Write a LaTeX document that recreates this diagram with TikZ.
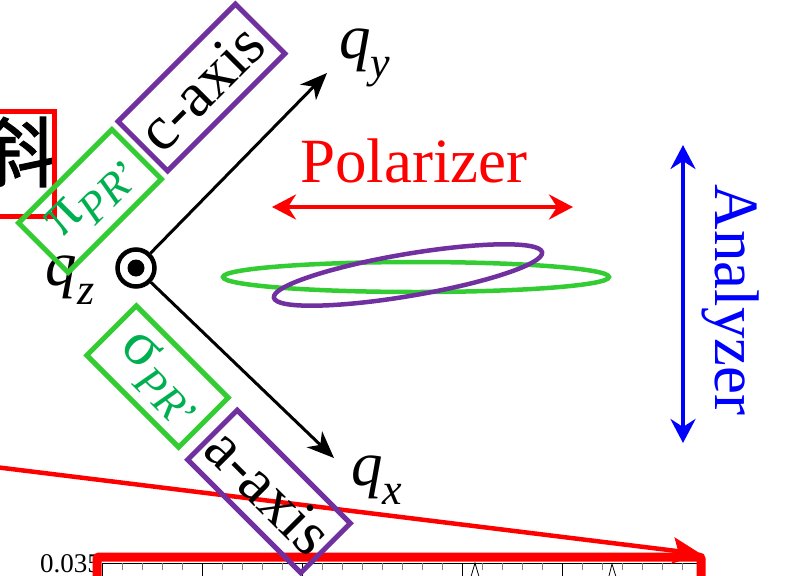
\documentclass[tikz,border=0pt]{standalone}
\usepackage{fontspec}
\setmainfont{Liberation Serif}
\newfontfamily\cjkfont[FakeBold=1.5]{Noto Sans CJK SC}
\usetikzlibrary{arrows.meta}
\definecolor{polred}{HTML}{FF0000}
\definecolor{anablue}{HTML}{0000FF}
\definecolor{boxpurple}{HTML}{7030A0}
\definecolor{boxgreen}{HTML}{33CC33}
\definecolor{textgreen}{HTML}{00B050}
\newcommand{\bigfont}{\fontsize{63}{63}\selectfont}
\newcommand{\subfont}{\fontsize{44}{44}\selectfont}
\newcommand{\qlabel}[1]{\textit{q}\raisebox{-0.3em}{\subfont\textit{#1}}}
\newcommand{\prlabel}[1]{#1\raisebox{-0.25em}{\subfont\textit{PR}’}}

\begin{document}
\begin{tikzpicture}[x=1pt,y=-1pt,
    every node/.style={inner sep=0pt},
    axisbox/.style={draw,line width=5pt,minimum height=70pt,font=\bigfont},
    qarrow/.style={line width=3pt,-{Stealth[length=27pt,width=22pt,inset=8pt]}},
    dblarrow/.style={line width=4pt,{Stealth[length=24pt,width=25pt,inset=8pt]}-{Stealth[length=24pt,width=25pt,inset=8pt]}},
    ptrarrow/.style={polred,line width=4.5pt,-{Stealth[length=28pt,width=26pt,inset=5pt]}}]
  \useasboundingbox (0,0) rectangle (788,576);
  \clip (0,0) rectangle (788,576);

  % plot strip at the bottom
  \node[anchor=west,font=\fontsize{27}{27}\selectfont] (ticklab) at (40,564) {0.035};
  \draw[line width=1pt] (102,590) |- (700,563);
  \foreach \x in {122,142,...,682}
    \draw[gray,line width=0.8pt] (\x,563) -- ++(0,7);
  \foreach \x in {202,302,462,562}
    \draw[line width=1pt] (\x,563) -- ++(0,13);
  \draw[line width=0.8pt] (470,580) -- (475,563) -- (480,580);
  \draw[line width=0.8pt] (608,580) -- (612,564) -- (617,580);
  \draw[polred,line width=9pt,rounded corners=2pt] (97,600) |- (701,557) -- (701,600);
  \coordinate (ptrstart) at (-5,467);
  \coordinate (plotcorner) at (701,554);
  \draw[ptrarrow] (ptrstart) -- (plotcorner);

  % clipped label on the left
  \node[font=\cjkfont\fontsize{76}{76}\selectfont] (xie) at (18,152) {斜};
  \draw[polred,line width=5pt] (-10,111) rectangle (54,216);

  % polarisation ellipses
  \draw[boxgreen,line width=4.5pt] (416,277) ellipse [x radius=193, y radius=15];
  \draw[boxpurple,line width=4.5pt,rotate around={9.6:(408,275)}] (408,275) ellipse [x radius=136, y radius=21];

  % crystal axes
  \node[draw,circle,line width=4.5pt,minimum size=37pt] (qz) at (136,268) {};
  \fill (qz.center) circle[radius=8.5pt];
  \coordinate (ytip) at (327,73);
  \coordinate (xtip) at (334,458);
  \draw[qarrow] (qz) -- (ytip);
  \draw[qarrow] (qz) -- (xtip);
  \node[font=\bigfont] (qylab) at (365,58) {\qlabel{y}};
  \node[font=\bigfont] (qxlab) at (377,480) {\qlabel{x}};
  \node[font=\bigfont] (qzlab) at (70,280) {\qlabel{z}};

  \node[axisbox,boxpurple,text=black,rotate=45,minimum width=166pt] (caxis) at (201.5,87.5) {c-axis};
  \node[axisbox,boxgreen,text=textgreen,rotate=45,minimum width=132pt] (pibox) at (90,201) {\hspace{8pt}\prlabel{π}};
  \node[axisbox,boxgreen,text=textgreen,rotate=-45,minimum width=130pt] (sigmabox) at (157.5,376.5) {\hspace{8pt}\prlabel{σ}};
  \node[axisbox,boxpurple,text=black,rotate=-45,minimum width=160pt] (aaxis) at (269,491.5) {a-axis};

  % polarizer and analyzer
  \node[text=polred,font=\bigfont] (pol) at (414,161) {Polarizer};
  \coordinate (polL) at (272,207);
  \coordinate (polR) at (573,207);
  \draw[dblarrow,polred] (polL) -- (polR);
  \node[text=anablue,font=\bigfont,rotate=-90] (ana) at (731,300) {Analyzer};
  \coordinate (anaT) at (683,145);
  \coordinate (anaB) at (683,443);
  \draw[dblarrow,anablue] (anaT) -- (anaB);
\end{tikzpicture}
\end{document}
